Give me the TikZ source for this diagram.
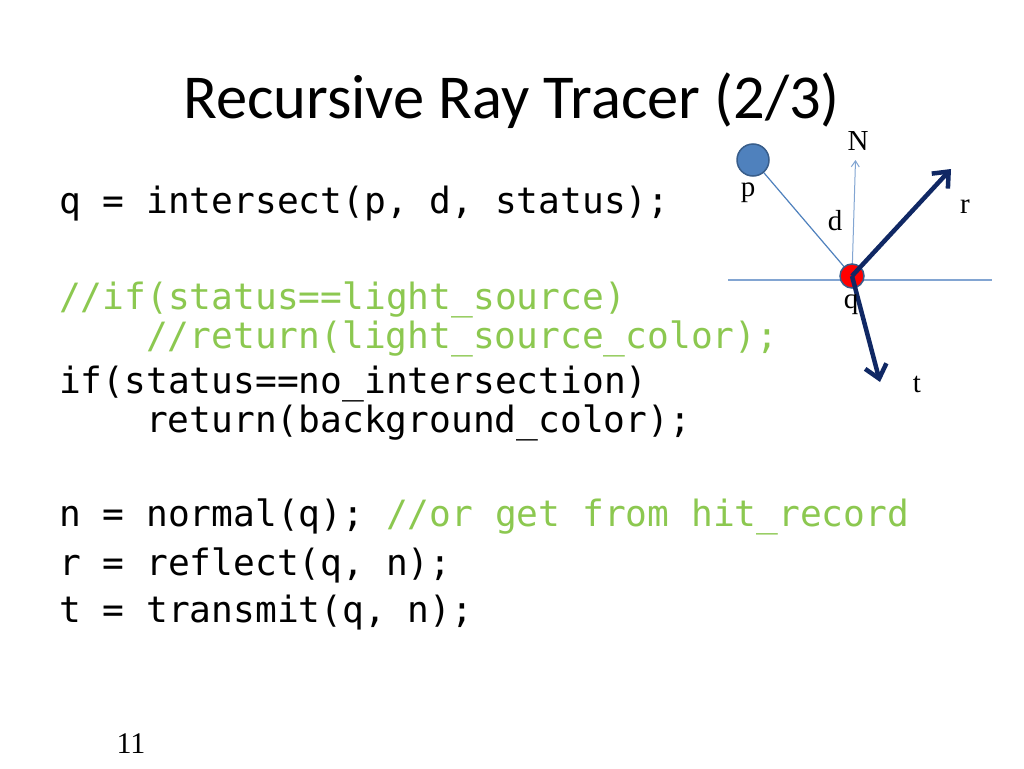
\documentclass[tikz,border=0pt]{standalone}
\usepackage{fontspec}
\setmainfont{Liberation Serif}
\newfontfamily\codefont{DejaVu Sans Mono}
\newfontfamily\titlefont{Carlito}
\usetikzlibrary{arrows.meta,backgrounds}
\definecolor{cgreen}{RGB}{140,200,80}
\definecolor{navy}{RGB}{16,40,100}
\definecolor{lineblue}{RGB}{130,165,210}
\definecolor{pblue}{RGB}{79,129,189}
\definecolor{pedge}{RGB}{56,93,138}
\begin{document}
\begin{tikzpicture}[x=1pt,y=-1pt,
  code/.style={anchor=base west, inner sep=0pt, font=\codefont\fontsize{36.2}{40}\selectfont},
  comment/.style={code, text=cgreen},
  lbl/.style={anchor=base, inner sep=0pt, font=\fontsize{29}{30}\selectfont},
  thinline/.style={draw=lineblue, line width=1.2pt},
  ray/.style={draw=navy, line width=4.5pt, -{Straight Barb[length=13pt,width=22pt]}},
  dot/.style={circle, draw=pedge, line width=1.5pt, inner sep=0pt}]
\useasboundingbox (0,0) rectangle (1024,768);

% title
\node[anchor=base west, inner sep=0pt, font=\titlefont\fontsize{62.5}{70}\selectfont] (title) at (183,118) {Recursive Ray Tracer (2/3)};

% code
\node[code] (l1) at (59,213) {q = intersect(p, d, status);};
\node[comment] (l2) at (59,309) {//if(status==light\_source)};
\node[comment] (l3) at (146,348) {//return(light\_source\_color);};
\node[code] (l4) at (59,393) {if(status==no\_intersection)};
\node[code] (l5) at (146,432) {return(background\_color);};
\node[code] (l6) at (59,526) {n = normal(q); \textcolor{cgreen}{//or get from hit\_record}};
\node[code] (l7) at (59,575) {r = reflect(q, n);};
\node[code] (l8) at (59,622) {t = transmit(q, n);};

% page number
\node[anchor=base, inner sep=0pt, font=\fontsize{30}{30}\selectfont] (pg) at (131,753) {11};

% diagram
\node[dot, fill=pblue, minimum size=32pt] (p) at (753,160) {};
\node[dot, fill=red, minimum size=24pt] (q) at (852,276) {};
\coordinate (hl) at (728,280);
\coordinate (hr) at (992,280);
\coordinate (Nend) at (855.5,160);
\coordinate (rend) at (951,169);
\coordinate (tend) at (880,382);
\begin{scope}[on background layer]
  \fill[white] (0,0) rectangle (1024,768);
  \draw[thinline] (hl) -- (hr);
  \draw[draw=pblue, line width=1.2pt] (p) -- (q.center);
  \draw[draw=lineblue, line width=1pt, -{Straight Barb[length=6pt,width=8pt]}] (q.center) -- (Nend);
\end{scope}
\draw[ray] (q.center) -- (rend);
\draw[ray] (q.center) -- (tend);

\node[lbl] (Nl) at (858,150) {N};
\node[lbl] (pl) at (748,196) {p};
\node[lbl] (dl) at (835,230) {d};
\node[lbl] (rl) at (965,213) {r};
\node[lbl] (ql) at (851,308) {q};
\node[lbl] (tl) at (917,392) {t};
\end{tikzpicture}
\end{document}
